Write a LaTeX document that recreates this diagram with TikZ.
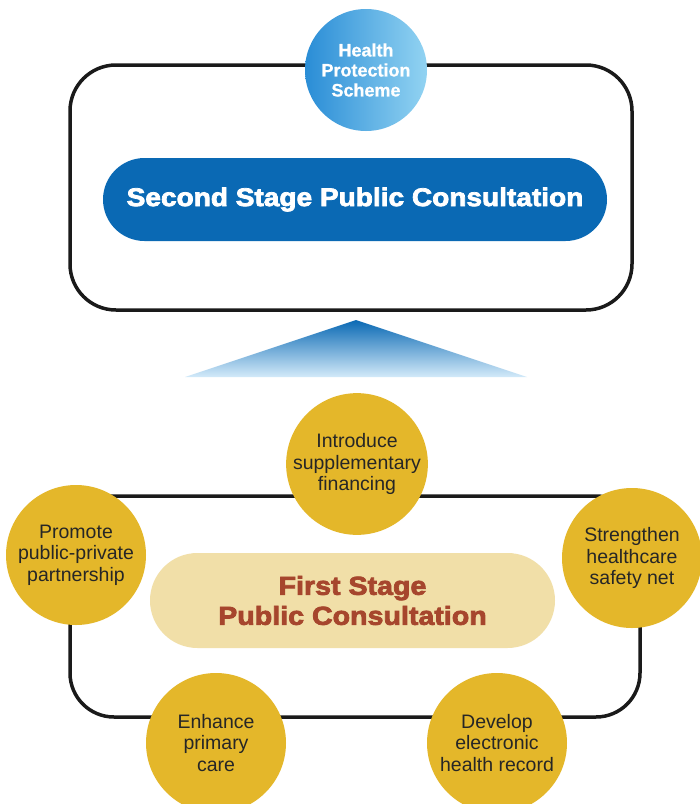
\documentclass[tikz,border=0pt]{standalone}
\usepackage{fontspec}
\usetikzlibrary{shapes.misc}
\setmainfont{Liberation Sans}
\newfontfamily\topicfont{Liberation Sans}
\newfontfamily\heavyfont[FakeStretch=1.1,FakeBold=3]{Liberation Sans Bold}
\newfontfamily\schemefont[FakeBold=0.8]{Liberation Sans Bold}

\definecolor{frameblack}{HTML}{1A1A1A}
\definecolor{stageblue}{HTML}{0A69B4}
\definecolor{skydark}{HTML}{2A8DD6}
\definecolor{skylight}{HTML}{92D3F2}
\definecolor{gold}{HTML}{E4B72A}
\definecolor{sand}{HTML}{F1DFA8}
\definecolor{rust}{HTML}{A6462D}
\definecolor{ink}{HTML}{262626}
\definecolor{palesky}{HTML}{D3EAF9}
\definecolor{midsky}{HTML}{3A89CA}

\tikzset{
  frame/.style={draw=frameblack, line width=3.5pt, rounded corners=46pt, fill=none},
  pill/.style={rounded rectangle, inner sep=0pt, align=center},
  topic/.style={circle, fill=gold, minimum size=140pt, inner sep=0pt, align=center,
    text=ink, font=\topicfont\fontsize{19.5}{21.5}\selectfont},
}

\begin{document}
\begin{tikzpicture}[x=1pt, y=-1pt]
\useasboundingbox (0,0) rectangle (700,804);
\fill[white] (0,0) rectangle (700,804);

% second stage block
\node[frame, minimum width=562pt, minimum height=245pt] (upperframe) at (351,187.5) {};
\node[circle, minimum size=122pt, inner sep=0pt, left color=skydark, right color=skylight,
  align=center, text=white, font=\schemefont\fontsize{18}{20}\selectfont]
  (scheme) at (366,70) {Health\\Protection\\Scheme};
\node[pill, fill=stageblue, minimum width=504pt, minimum height=83pt, text=white,
  font=\heavyfont\fontsize{25.5}{28}\selectfont]
  (second) at (355,199.5) {Second Stage Public Consultation};

% upward wedge
\coordinate (apex) at (356,320);
\coordinate (baseL) at (185,377);
\coordinate (baseR) at (527,377);
\shade[top color=stageblue, middle color=midsky, bottom color=palesky]
  (apex) -- (baseR) -- (baseL) -- cycle;

% first stage block
\node[frame, rounded corners=44pt, minimum width=570pt, minimum height=221pt] (lowerframe) at (355,606.5) {};
\node[pill, fill=sand, minimum width=405pt, minimum height=95pt, text=rust,
  font=\heavyfont\fontsize{26}{30}\selectfont]
  (first) at (352.5,600.5) {First Stage\\Public Consultation};

\node[topic, minimum size=136pt] (financing) at (357,464) {Introduce\\supplementary\\financing};
\node[topic] (partnership) at (76,555) {Promote\\public-private\\partnership};
\node[topic] (safetynet) at (632,558) {Strengthen\\healthcare\\safety net};
\node[topic] (primary) at (216,743) {Enhance\\primary\\care};
\node[topic] (record) at (497,743) {Develop\\electronic\\health record};
\end{tikzpicture}
\end{document}
